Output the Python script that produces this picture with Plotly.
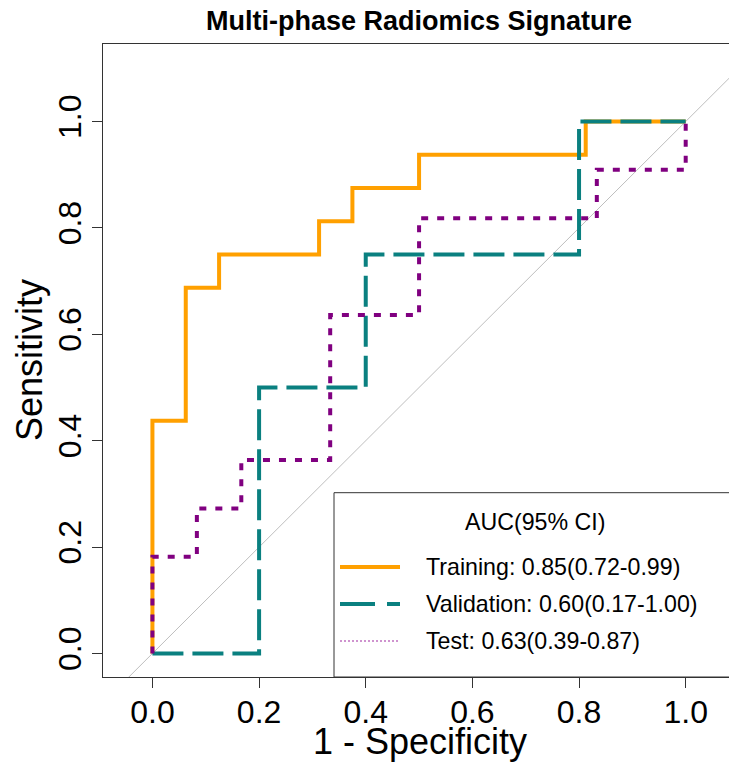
import plotly.graph_objects as go

# ---- data (1 - specificity, sensitivity) ----
train_fpr = [0, 0, 0.0625, 0.0625, 0.125, 0.125, 0.3125, 0.3125, 0.375, 0.375, 0.5, 0.5, 0.8125, 0.8125, 1.0]
train_tpr = [0, 0.4375, 0.4375, 0.6875, 0.6875, 0.75, 0.75, 0.8125, 0.8125, 0.875, 0.875, 0.9375, 0.9375, 1.0, 1.0]

valid_fpr = [0, 0.2, 0.2, 0.4, 0.4, 0.8, 0.8, 1.0]
valid_tpr = [0, 0, 0.5, 0.5, 0.75, 0.75, 1.0, 1.0]

test_fpr = [0, 0, 1/12, 1/12, 2/12, 2/12, 4/12, 4/12, 6/12, 6/12, 10/12, 10/12, 1.0, 1.0]
test_tpr = [0, 2/11, 2/11, 3/11, 3/11, 4/11, 4/11, 7/11, 7/11, 9/11, 9/11, 10/11, 10/11, 1.0]

diag = [-0.2, 1.3]

tick_vals = [0.0, 0.2, 0.4, 0.6, 0.8, 1.0]
tick_text = ["0.0", "0.2", "0.4", "0.6", "0.8", "1.0"]

legend_title = "AUC(95% CI)"
legend_labels = ["Training: 0.85(0.72-0.99)", "Validation: 0.60(0.17-1.00)", "Test: 0.63(0.39-0.87)"]

title_text = "Multi-phase Radiomics Signature"

FONT = "Liberation Sans, Arial, sans-serif"
C_TRAIN = "#FFA000"
C_VALID = "#0A8080"
C_TEST = "#800080"

W, H = 729, 765
ML, MR, MT, MB = 103, 0, 44, 88
PW, PH = W - ML - MR, H - MT - MB

def px_x(p):
    return (p - ML) / PW

def px_y(p):
    return (H - MB - p) / PH

fig = go.Figure()
fig.add_trace(go.Scatter(x=diag, y=diag, mode="lines",
                         line=dict(color="#BEBEBE", width=1), hoverinfo="skip", showlegend=False))
fig.add_trace(go.Scatter(x=train_fpr, y=train_tpr, mode="lines",
                         line=dict(color=C_TRAIN, width=4), showlegend=False))
fig.add_trace(go.Scatter(x=valid_fpr, y=valid_tpr, mode="lines",
                         line=dict(color=C_VALID, width=4, dash="31px,9px"), showlegend=False))
fig.add_trace(go.Scatter(x=test_fpr, y=test_tpr, mode="lines",
                         line=dict(color=C_TEST, width=4, dash="7px,9px"), showlegend=False))

shapes = []
annotations = []

# legend box
shapes.append(dict(type="rect", xref="paper", yref="paper",
                   x0=px_x(334), x1=1.1, y0=0, y1=px_y(492.7),
                   line=dict(color="#333333", width=1), fillcolor="white", layer="above"))
leg_y = [567, 604, 641]
leg_styles = [dict(color=C_TRAIN, width=4),
              dict(color=C_VALID, width=4, dash="35px,12px"),
              dict(color="#C070C0", width=1.5, dash="2px,2px")]
for yy, st, lab in zip(leg_y, leg_styles, legend_labels):
    shapes.append(dict(type="line", xref="paper", yref="paper",
                       x0=px_x(340), x1=px_x(400), y0=px_y(yy), y1=px_y(yy),
                       line=st, layer="above"))
    annotations.append(dict(text=lab, xref="paper", yref="paper", x=px_x(424), y=px_y(yy),
                            xanchor="left", yanchor="middle", showarrow=False,
                            font=dict(family=FONT, size=23.2, color="black")))
annotations.append(dict(text=legend_title, xref="paper", yref="paper", x=px_x(535), y=px_y(522),
                        xanchor="center", yanchor="middle", showarrow=False,
                        font=dict(family=FONT, size=23.2, color="black")))

# axis titles
annotations.append(dict(text="1 - Specificity", xref="paper", yref="paper",
                        x=px_x(420), y=px_y(741), xanchor="center", yanchor="middle",
                        showarrow=False, font=dict(family=FONT, size=36, color="black")))
annotations.append(dict(text="Sensitivity", xref="paper", yref="paper",
                        x=px_x(29), y=px_y(360), xanchor="center", yanchor="middle",
                        textangle=-90, showarrow=False, font=dict(family=FONT, size=36, color="black")))
# title
annotations.append(dict(text="<b>" + title_text + "</b>", xref="paper", yref="paper",
                        x=px_x(418.5), y=px_y(21), xanchor="center", yanchor="middle",
                        showarrow=False, font=dict(family=FONT, size=27, color="black")))

axis_common = dict(showgrid=False, zeroline=False, showline=True, linecolor="#333333", linewidth=1,
                   ticks="outside", ticklen=10, tickwidth=1, tickcolor="#333333",
                   tickvals=tick_vals, ticktext=tick_text, automargin=False,
                   tickfont=dict(family=FONT, size=32, color="black"))

fig.update_layout(
    width=W, height=H,
    margin=dict(l=ML, r=MR, t=MT, b=MB, pad=0),
    paper_bgcolor="white", plot_bgcolor="white",
    xaxis=dict(range=[-0.0927, 1.0812], mirror=True, ticklabelstandoff=-3, **axis_common),
    yaxis=dict(range=[-0.0442, 1.1457], tickangle=-90, ticklabelstandoff=-2, **axis_common),
    shapes=shapes, annotations=annotations, showlegend=False,
)

fig.write_html("out.html",
               config={"displayModeBar": False},
               post_script="document.body.style.margin='0px';document.body.style.padding='0px';"
                           "document.body.style.overflow='hidden';"
                           "document.documentElement.style.overflow='hidden';")
